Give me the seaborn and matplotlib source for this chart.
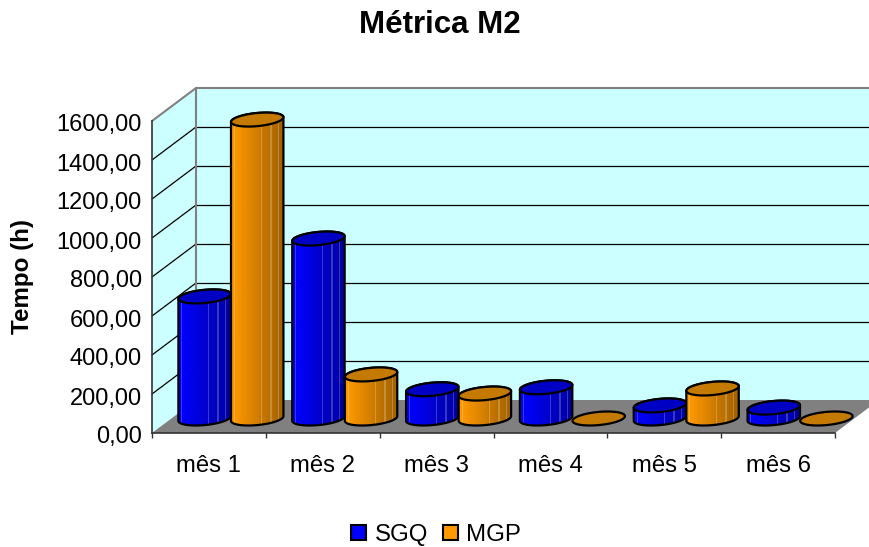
import numpy as np
import pandas as pd
import matplotlib
matplotlib.use("Agg")
import matplotlib.pyplot as plt
import seaborn as sns
from matplotlib.path import Path
from matplotlib.patches import PathPatch, Polygon
from matplotlib.transforms import Affine2D, IdentityTransform
from matplotlib.colors import to_rgb

months = ["mês 1", "mês 2", "mês 3", "mês 4", "mês 5", "mês 6"]
sgq = [626, 923, 150, 160, 67, 56]
mgp = [1533, 226, 128, 0, 154, 0]
series_names = ["SGQ", "MGP"]
series_colors = ["#0000FF", "#FF9900"]
y_ticks = [0, 200, 400, 600, 800, 1000, 1200, 1400, 1600]

sns.set_theme(style="white")
plt.rcParams["font.family"] = ["Liberation Sans", "DejaVu Sans"]
plt.rcParams["text.color"] = "black"
plt.rcParams["axes.labelcolor"] = "black"
plt.rcParams["xtick.labelcolor"] = "black"
plt.rcParams["ytick.labelcolor"] = "black"

W, H = 869, 547
fig = plt.figure(figsize=(W / 100, H / 100), dpi=100, facecolor="white")
ax = fig.add_axes([152 / W, (H - 433) / H, (835 - 152) / W, (433 - 121) / H])
ax.patch.set_visible(False)

df = pd.DataFrame({
    "mes": months * 2,
    "valor": sgq + mgp,
    "serie": [series_names[0]] * len(months) + [series_names[1]] * len(months),
})
sns.barplot(data=df, x="mes", y="valor", hue="serie", palette=series_colors,
            width=0.925, gap=0, ax=ax, errorbar=None, saturation=1)

ax.set_xlim(-0.5, 5.5)
ax.set_ylim(0, 1600)
ax.set_autoscale_on(False)
ax.set_xlabel("")
ax.set_ylabel("Tempo (h)", fontsize=17.4, fontweight="bold", labelpad=0, color="black")
ax.yaxis.set_label_coords((34 - 152) / 683, 0.5)
ax.set_yticks(y_ticks)
ax.set_yticklabels([f"{v:.2f}".replace(".", ",") for v in y_ticks], fontsize=17, color="black")
ax.set_xticks(range(len(months)))
ax.set_xticklabels(months, fontsize=17.2, color="black")
ax.set_xticks(np.arange(-0.5, 6), minor=True)
ax.tick_params(axis="x", which="major", length=0, pad=16)
ax.tick_params(axis="x", which="minor", length=3.6, width=1, color="#333333", bottom=True)
ax.tick_params(axis="y", length=0, pad=7.2)
for lbl in ax.get_yticklabels():
    lbl.set_transform(lbl.get_transform() + Affine2D().translate(0, -2))
for s in ["top", "right"]:
    ax.spines[s].set_visible(False)
for s in ["left", "bottom"]:
    ax.spines[s].set_color("#333333")
    ax.spines[s].set_linewidth(1.2)

fig.canvas.draw()
data2px = ax.transData
DEPTH = Affine2D().translate(44, 33)
back = data2px + DEPTH
ident = IdentityTransform()

x0, x1 = ax.get_xlim()
corners_front = data2px.transform([(x0, 0), (x1, 0), (x0, 1600)])
corners_back = back.transform([(x0, 0), (x1, 0), (x0, 1600), (x1, 1600)])
fl, fr, ft = corners_front
bl, br, bt, btr = corners_back

WALL = "#CCFFFF"
ax.add_patch(Polygon([bl, br, btr, bt], closed=True, fc=WALL, ec="none", transform=ident, clip_on=False, zorder=0.2))
ax.add_patch(Polygon([fl, ft, bt, bl], closed=True, fc=WALL, ec="none", transform=ident, clip_on=False, zorder=0.2))
ax.add_patch(Polygon([fl, fr, br, bl], closed=True, fc="#808080", ec="none", transform=ident, clip_on=False, zorder=0.3))

for v in y_ticks[1:-1]:
    ax.plot([x0, x1], [v, v], color="black", lw=0.9, transform=back, clip_on=False, zorder=0.4)
    a = data2px.transform((x0, v))
    ax.plot([a[0], a[0] + 44], [a[1], a[1] + 33], color="black", lw=0.9, transform=ident, clip_on=False, zorder=0.4)
# wall frame
ax.plot([bl[0], bt[0], btr[0]], [bl[1], bt[1], btr[1]], color="#808080", lw=1.5, transform=ident, clip_on=False, zorder=0.5)
ax.plot([ft[0], bt[0]], [ft[1], bt[1]], color="#808080", lw=1.5, transform=ident, clip_on=False, zorder=0.5)

# cylinders, built from the geometry of seaborn's bars
SHIFT = Affine2D().translate(22, 14.5)
TILT = np.deg2rad(5.5)
B_RATIO = 6.6 / 26.5
STREAKS = [0.08, 0.57, 0.75, 0.88]


def ellipse_pts(c, a, b, t):
    u = np.array([np.cos(TILT), np.sin(TILT)])
    v = np.array([-np.sin(TILT), np.cos(TILT)])
    return np.asarray(c) + np.outer(a * np.cos(t), u) + np.outer(b * np.sin(t), v)


def gradient(color, n):
    base = np.array(to_rgb(color))
    fr_ = np.linspace(0, 1, n)
    shade = np.interp(fr_, [0, 0.12, 0.55, 1], [1.0, 0.98, 0.8, 0.62])
    img = np.outer(shade, base)
    for s in STREAKS:
        i = int(s * n)
        img[i] = img[i] * 0.78 + 0.22
    return img[np.newaxis, :, :]


bars = []
for hue_i, cont in enumerate(ax.containers):
    for p in cont:
        bars.append((round(p.get_x() + p.get_width() / 2, 3), p.get_height() > 0, hue_i, p))
group_of = lambda b: int(round(b[0]))
bars.sort(key=lambda b: (group_of(b), b[1], b[2]))

z = 3.0
for cx, tall, hue_i, p in bars:
    color = series_colors[hue_i]
    top_color = {"#0000FF": "#0000C4", "#FF9900": "#C47A00"}[color]
    left = (data2px + SHIFT).transform((p.get_x(), 0))
    right = (data2px + SHIFT).transform((p.get_x() + p.get_width(), 0))
    base_c = (left + right) / 2
    top_c = (data2px + SHIFT).transform((cx, p.get_height()))
    a = (right[0] - left[0]) / 2
    b = a * B_RATIO
    t1 = np.arctan(-(b / a) * np.tan(TILT))
    tL = t1 + np.pi
    lower = ellipse_pts(base_c, a, b, np.linspace(tL, t1 + 2 * np.pi, 60))
    upper = ellipse_pts(top_c, a, b, np.linspace(t1, tL, 60))
    outline = np.vstack([lower, upper, lower[:1]])
    body = Path(outline, closed=True)
    p.set_transform(ident)
    p.set_clip_path(body, ident)
    p.set_edgecolor("none")
    p.set_zorder(z)
    z += 0.01
    if tall:
        n = max(int(round(2 * a)), 2)
        xa, xb = left[0] - 1, right[0] + 1
        im = ax.imshow(gradient(color, n), extent=[xa, xb, outline[:, 1].min(), outline[:, 1].max()],
                       transform=ident, aspect="auto", interpolation="nearest", zorder=z)
        im.set_clip_box(fig.bbox)
        im.set_clip_path(body, ident)
        z += 0.01
        ax.add_patch(PathPatch(body, fc="none", ec="black", lw=1.6, transform=ident, clip_on=False, zorder=z))
        z += 0.01
    top_pts = ellipse_pts(top_c, a, b, np.linspace(0, 2 * np.pi, 80))
    ax.add_patch(Polygon(top_pts, closed=True, fc=top_color, ec="black", lw=1.6, transform=ident, clip_on=False, zorder=z))
    z += 0.01

ax.set_xlim(x0, x1)
ax.set_ylim(0, 1600)

handles, labels = ax.get_legend_handles_labels()
for h in handles:
    h.set_edgecolor("black")
    h.set_linewidth(1.5)
ax.legend(handles, labels, ncol=2, frameon=False, fontsize=17.3,
          loc="center", bbox_to_anchor=(436 / W, 1 - 535 / H), bbox_transform=fig.transFigure,
          handlelength=0.63, handleheight=0.63, handletextpad=0.36, columnspacing=0.62, borderpad=0, borderaxespad=0,
          labelcolor="black")

fig.text(440 / W, 1 - 25 / H, "Métrica M2", ha="center", va="center",
         fontsize=22.5, fontweight="bold", color="black")

fig.savefig("out.png", dpi=100)
